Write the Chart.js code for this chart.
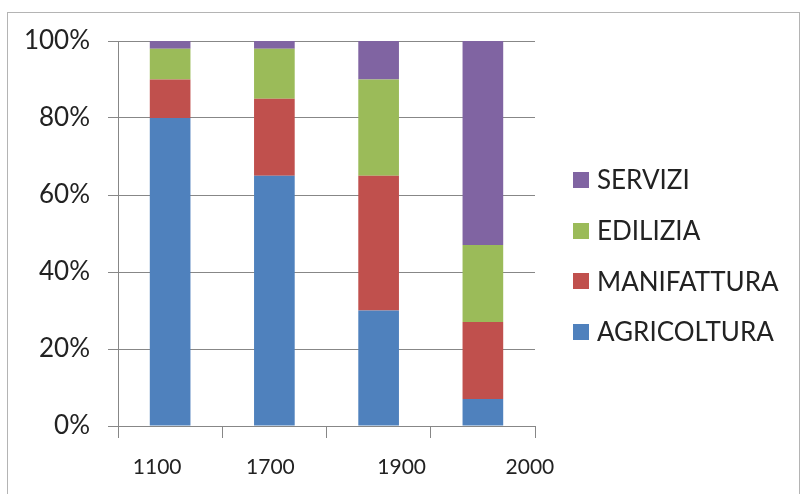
<!DOCTYPE html>
<html>
<head>
<meta charset="utf-8">
<script src="https://cdn.jsdelivr.net/npm/chart.js@4/dist/chart.umd.min.js"></script>
<style>
  html, body { margin: 0; padding: 0; background: #fff; }
  #wrap { width: 803px; height: 494px; position: relative; }
</style>
</head>
<body>
<div id="wrap"><canvas id="c" width="803" height="494"></canvas></div>
<script>
// Employment share by sector (%), stacked to 100 for each period
const years = ['1100', '1700', '1900', '2000'];
const agricoltura = [80, 65, 30, 7];
const manifattura = [10, 20, 35, 20];
const edilizia = [8, 13, 25, 20];
const servizi = [2, 2, 10, 53];
const percentTicks = [0, 20, 40, 60, 80, 100];

const TEXT = '#222222';
const AXIS = '#878787';
const FONT = 'Lato, "Open Sans", sans-serif';

// Period labels sit slightly off the bar centres, nudged per column
const yearLabelShift = [-13, -4, 23, 47];

const frame = {
  id: 'frame',
  beforeDraw(chart) {
    const ctx = chart.ctx;
    ctx.save();
    ctx.fillStyle = '#ffffff';
    ctx.fillRect(0, 0, chart.width, chart.height);
    ctx.strokeStyle = '#b4b4b4';
    ctx.lineWidth = 1;
    ctx.strokeRect(7.5, 12.5, 792, 500);
    ctx.restore();
  }
};

const yearLabels = {
  id: 'yearLabels',
  afterDraw(chart) {
    const ctx = chart.ctx;
    const xs = chart.scales.x;
    ctx.save();
    ctx.font = '21px ' + FONT;
    ctx.fillStyle = TEXT;
    ctx.textAlign = 'center';
    ctx.textBaseline = 'middle';
    years.forEach((y, i) => {
      ctx.fillText(y, xs.getPixelForValue(i) + yearLabelShift[i], 467);
    });
    ctx.restore();
  }
};

const sideLegend = {
  id: 'sideLegend',
  afterDraw(chart) {
    const ctx = chart.ctx;
    const ds = chart.data.datasets.slice().reverse();
    ctx.save();
    ctx.font = '26px ' + FONT;
    ctx.textAlign = 'left';
    ctx.textBaseline = 'middle';
    ds.forEach((d, k) => {
      const cy = 180 + k * 50.7;
      ctx.fillStyle = d.backgroundColor;
      ctx.fillRect(573, Math.round(cy - 8), 16, 16);
      ctx.fillStyle = TEXT;
      ctx.fillText(d.label, 597, cy + 1);
    });
    ctx.restore();
  }
};

new Chart(document.getElementById('c'), {
  type: 'bar',
  data: {
    labels: years,
    datasets: [
      { label: 'AGRICOLTURA', data: agricoltura, backgroundColor: '#4F81BD' },
      { label: 'MANIFATTURA', data: manifattura, backgroundColor: '#C0504D' },
      { label: 'EDILIZIA', data: edilizia, backgroundColor: '#9BBB59' },
      { label: 'SERVIZI', data: servizi, backgroundColor: '#8064A2' }
    ]
  },
  options: {
    responsive: false,
    animation: false,
    devicePixelRatio: 1,
    layout: { padding: { top: 41, right: 268, left: 0, bottom: 0 } },
    datasets: { bar: { barPercentage: 0.39, categoryPercentage: 1.0, borderWidth: 0 } },
    plugins: {
      legend: { display: false },
      tooltip: { enabled: false }
    },
    scales: {
      x: {
        stacked: true,
        offset: true,
        grid: { offset: true, drawOnChartArea: false, drawTicks: true, tickLength: 12, color: AXIS, lineWidth: 1 },
        border: { display: true, color: AXIS, width: 1 },
        ticks: { display: false },
        afterFit(s) { s.height = 68; }
      },
      y: {
        stacked: true,
        min: 0,
        max: 100,
        afterBuildTicks(s) { s.ticks = percentTicks.map(v => ({ value: v })); },
        ticks: {
          callback: v => v + '%',
          font: { family: FONT, size: 26 },
          color: TEXT,
          padding: 18
        },
        grid: { color: AXIS, lineWidth: 1, drawTicks: true, tickLength: 10 },
        border: { display: true, color: AXIS, width: 1 },
        afterFit(s) { s.width = 118; }
      }
    }
  },
  plugins: [frame, yearLabels, sideLegend]
});
</script>
</body>
</html>
